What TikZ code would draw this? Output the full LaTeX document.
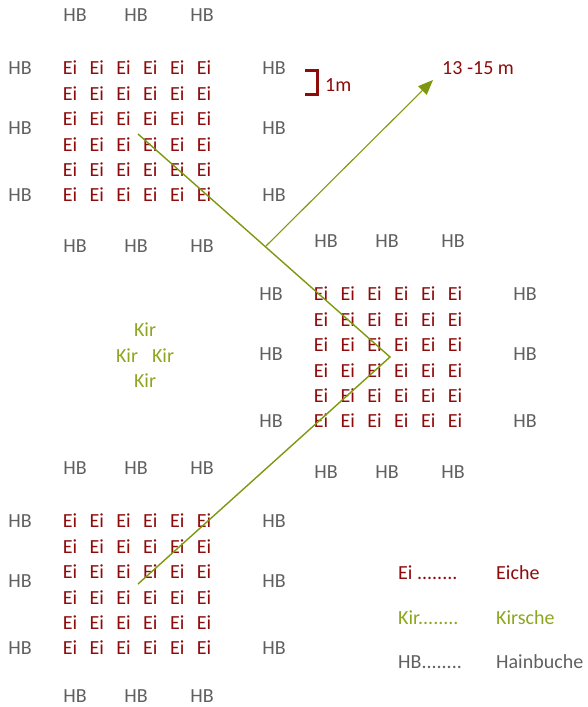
\documentclass[tikz,border=0pt]{standalone}
\usepackage{fontspec}
\setmainfont{Carlito}
\usetikzlibrary{arrows.meta}
\definecolor{eired}{HTML}{8E0B0B}
\definecolor{kirgreen}{HTML}{8DA621}
\definecolor{linegreen}{HTML}{7D980F}
\definecolor{hbgrey}{HTML}{606060}
\begin{document}
\begin{tikzpicture}[x=1pt,y=-1pt,
  every node/.style={font=\fontsize{20}{20}\selectfont, inner sep=0pt},
  ei/.style={text=eired},
  hb/.style={text=hbgrey},
  kir/.style={text=kirgreen},
  conn/.style={draw=linegreen, line width=1.4pt},
  arr/.style={draw=linegreen, line width=1.1pt, -{Triangle[length=15pt,width=12pt]}}]
\useasboundingbox (0,0) rectangle (587,707);
% three plantation blocks
\foreach \b/\ox/\oy/\bot in {1/0/0/246, 2/251/226/246, 3/0/453/243}{
  \foreach \i in {0,...,5}{
    \foreach \j in {0,...,5}{
      \node[ei] (e-\b-\i-\j) at ({\ox+70+26.8*\i},{\oy+68+25.4*\j}) {Ei};
    }
  }
  \foreach \x [count=\k] in {75,136,202}{
    \node[hb] (ht-\b-\k) at ({\ox+\x},{\oy+15}) {HB};
    \node[hb] (hbm-\b-\k) at ({\ox+\x},{\oy+\bot}) {HB};
  }
  \foreach \y [count=\k] in {68,128,195}{
    \node[hb] (hl-\b-\k) at ({\ox+20},{\oy+\y}) {HB};
    \node[hb] (hr-\b-\k) at ({\ox+274},{\oy+\y}) {HB};
  }
}
% cherries
\node[kir] (k1) at (145,330) {Kir};
\node[kir] (k2) at (127,356) {Kir};
\node[kir] (k3) at (163,356) {Kir};
\node[kir] (k4) at (145,381) {Kir};
% scale bracket
\draw[eired, line width=3pt] (305,70) -- (317,70) -- (317,94) -- (305,94);
\node[ei, anchor=west] (onem) at (325,85) {1m};
\node[ei, anchor=west] (dist) at (442,68) {13 -15 m};
% zigzag connectors
\coordinate (p1) at (138,134);
\coordinate (p2) at (390,357);
\coordinate (p3) at (138,584);
\coordinate (pa) at (266,246);
\coordinate (tip) at (433,80);
\draw[conn] (p1) -- (p2) -- (p3);
\draw[arr] (pa) -- (tip);
% legend
\node[ei, anchor=west] (l1) at (398,573) {Ei ........};
\node[ei, anchor=west] (l1b) at (496,573) {Eiche};
\node[kir, anchor=west] (l2) at (398,618) {Kir........};
\node[kir, anchor=west] (l2b) at (496,618) {Kirsche};
\node[hb, anchor=west] (l3) at (398,662) {HB........};
\node[hb, anchor=west] (l3b) at (496,662) {Hainbuche};
\end{tikzpicture}
\end{document}
